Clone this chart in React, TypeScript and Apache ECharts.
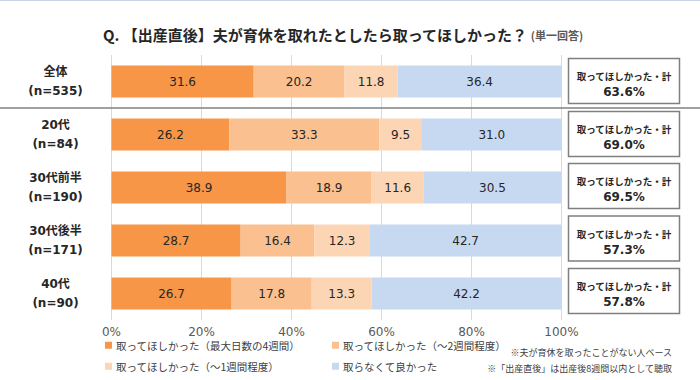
import React, { useEffect, useRef } from "react";
import * as echarts from "echarts";

const categories = ["全体\n(n=535)", "20代\n(n=84)", "30代前半\n(n=190)", "30代後半\n(n=171)", "40代\n(n=90)"];
const seriesNames = [
  "取ってほしかった（最大日数の4週間）",
  "取ってほしかった（～2週間程度）",
  "取ってほしかった（～1週間程度）",
  "取らなくて良かった",
];
const s1 = [31.6, 26.2, 38.9, 28.7, 26.7];
const s2 = [20.2, 33.3, 18.9, 16.4, 17.8];
const s3 = [11.8, 9.5, 11.6, 12.3, 13.3];
const s4 = [36.4, 31.0, 30.5, 42.7, 42.2];
const totals = [63.6, 69.0, 69.5, 57.3, 57.8];
const totalLabel = "取ってほしかった・計";
const xTicks = [0, 20, 40, 60, 80, 100];
const titleMain = "Q. 【出産直後】夫が育休を取れたとしたら取ってほしかった？";
const titleSub = "(単一回答)";
const notes = ["※夫が育休を取ったことがない人ベース", "※「出産直後」は出産後8週間以内として聴取"];

const colors = ["#F79646", "#FAC090", "#FCD5B5", "#C6D9F1"];
const CJK = "'Noto Sans CJK JP', sans-serif";
const NUM = "'DejaVu Sans', 'Noto Sans CJK JP', sans-serif";

export default function App() {
  const ref = useRef<HTMLDivElement>(null);
  useEffect(() => {
    if (!ref.current) return;
    const chart = echarts.init(ref.current, undefined, { renderer: "svg" });
    const values = [s1, s2, s3, s4];
    const barSeries = values.map((v, i) => ({
      name: seriesNames[i],
      type: "bar",
      stack: "total",
      barWidth: 32,
      data: v,
      itemStyle: { color: colors[i] },
      label: {
        show: true,
        position: "inside",
        color: "#262626",
        fontSize: 12,
        fontFamily: NUM,
        formatter: (p: any) => Number(p.value).toFixed(1),
      },
    }));
    const legendPos = [
      { left: 105, top: 340 },
      { left: 332, top: 340 },
      { left: 105, top: 361 },
      { left: 332, top: 361 },
    ];
    const legends = seriesNames.map((n, i) => ({
      data: [n],
      left: legendPos[i].left,
      top: legendPos[i].top,
      padding: 0,
      itemWidth: 7,
      itemHeight: 7,
      icon: "rect",
      selectedMode: false,
      textStyle: { fontSize: 10.5, color: "#404040", fontFamily: CJK, padding: [0, 0, 0, -1] },
    }));
    chart.setOption({
      animation: false,
      textStyle: { fontFamily: CJK },
      title: {
        text: `{a|${titleMain}}{b|${titleSub}}`,
        left: 103,
        top: 24,
        padding: 0,
        textStyle: {
          rich: {
            a: { fontSize: 15, fontWeight: "bold", color: "#262626", fontFamily: CJK, lineHeight: 20 },
            b: { fontSize: 11, color: "#595959", fontFamily: CJK, lineHeight: 20, padding: [2, 0, 0, 3] },
          },
        },
      },
      legend: legends,
      grid: { left: 111.5, right: 138.5, top: 55, height: 265 },
      xAxis: {
        type: "value",
        min: xTicks[0],
        max: xTicks[xTicks.length - 1],
        interval: 20,
        axisLine: { show: false },
        axisTick: { show: false },
        splitLine: { show: true, lineStyle: { color: "#D9D9D9", width: 1 } },
        axisLabel: { formatter: "{value}%", color: "#595959", fontSize: 12, fontFamily: NUM, margin: 6 },
      },
      yAxis: {
        type: "category",
        data: categories,
        inverse: true,
        axisLine: { show: false },
        axisTick: { show: false },
        axisLabel: {
          align: "center",
          margin: 56,
          fontSize: 12,
          fontWeight: "bold",
          color: "#262626",
          fontFamily: NUM,
          lineHeight: 19,
        },
      },
      series: [
        ...barSeries,
        {
          type: "custom",
          name: "total",
          clip: false,
          silent: true,
          z: 5,
          data: totals.map((t, i) => [100, i, t]),
          encode: { x: 0, y: 1 },
          renderItem: (params: any, api: any) => {
            const idx = api.value(1);
            const p = api.coord([100, idx]);
            const band = api.size([0, 1])[1];
            const cy = p[1] - (idx > 1 ? idx * 0.5 : 0) - 0.5;
            const children: any[] = [
              {
                type: "rect",
                shape: { x: p[0] + 7, y: cy - 22.5, width: 111, height: 45 },
                style: { fill: "#fff", stroke: "#7F7F7F", lineWidth: 1.5 },
              },
              {
                type: "text",
                style: {
                  x: p[0] + 62.5,
                  y: cy - 5,
                  text: totalLabel,
                  align: "center",
                  verticalAlign: "middle",
                  fontSize: 9.5,
                  fontWeight: "bold",
                  fill: "#262626",
                  fontFamily: CJK,
                },
              },
              {
                type: "text",
                style: {
                  x: p[0] + 62.5,
                  y: cy + 11,
                  text: Number(api.value(2)).toFixed(1) + "%",
                  align: "center",
                  verticalAlign: "middle",
                  fontSize: 12,
                  fontWeight: "bold",
                  fill: "#262626",
                  fontFamily: NUM,
                },
              },
            ];
            if (idx === 0) {
              children.push({
                type: "line",
                shape: { x1: 0, y1: p[1] + band / 2, x2: 700, y2: p[1] + band / 2 },
                style: { stroke: "#808080", lineWidth: 1.5 },
              });
            }
            return { type: "group", children };
          },
        },
      ],
      graphic: [
        {
          type: "rect",
          shape: { x: 0, y: 0, width: 700, height: 1 },
          style: { fill: "#C9D3E3" },
        },
        {
          type: "text",
          style: { x: 672, y: 352, text: notes[0], align: "right", verticalAlign: "middle", fontSize: 9, fill: "#404040", fontFamily: CJK },
        },
        {
          type: "text",
          style: { x: 672, y: 368, text: notes[1], align: "right", verticalAlign: "middle", fontSize: 9, fill: "#404040", fontFamily: CJK },
        },
      ],
    });
    return () => chart.dispose();
  }, []);
  return <div ref={ref} style={{ position: "fixed", left: 0, top: 0, width: 700, height: 380, background: "#fff" }} />;
}
